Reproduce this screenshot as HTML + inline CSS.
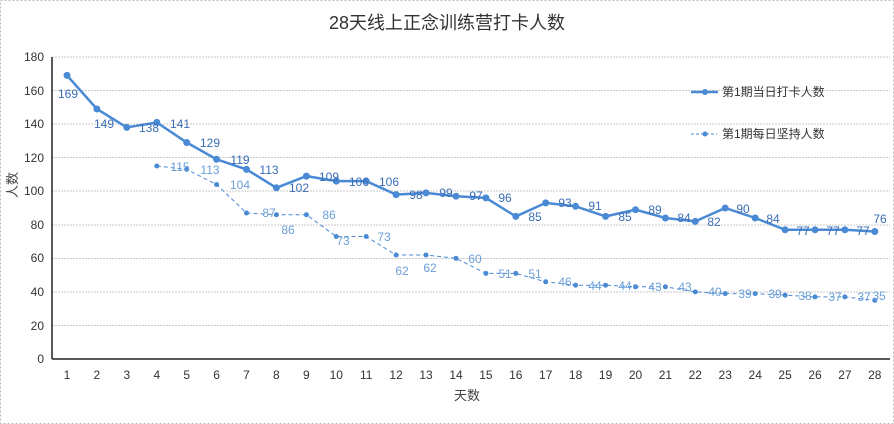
<!DOCTYPE html>
<html><head><meta charset="utf-8"><style>
html,body{margin:0;padding:0;background:#fff;}
svg{display:block;font-family:"Liberation Sans","Noto Sans CJK SC",sans-serif;}
.t1{font-size:12px;fill:#3a6db5;text-anchor:middle;}
.t2{font-size:12px;fill:#6a9fd8;text-anchor:middle;}
.ax{font-size:12px;fill:#333;}
</style></head><body>
<svg width="894" height="424" viewBox="0 0 894 424">
<rect x="0.5" y="0.5" width="893" height="423" fill="#fff" stroke="#bbb" stroke-dasharray="2,2"/>
<text x="447" y="29" font-size="18" fill="#333" text-anchor="middle">28天线上正念训练营打卡人数</text>
<g stroke="#c8c8c8" stroke-dasharray="2,1">
<line x1="52" y1="57" x2="890" y2="57"/><line x1="52" y1="90.5" x2="890" y2="90.5"/><line x1="52" y1="124" x2="890" y2="124"/><line x1="52" y1="157.5" x2="890" y2="157.5"/><line x1="52" y1="191" x2="890" y2="191"/><line x1="52" y1="225" x2="890" y2="225"/><line x1="52" y1="258.5" x2="890" y2="258.5"/><line x1="52" y1="292" x2="890" y2="292"/><line x1="52" y1="325.5" x2="890" y2="325.5"/>
</g>
<line x1="52" y1="57" x2="52" y2="359" stroke="#222" stroke-width="1.5"/>
<line x1="52" y1="359" x2="890" y2="359" stroke="#222" stroke-width="1.5"/>
<g class="ax" text-anchor="end">
<text x="44" y="61">180</text><text x="44" y="95">160</text><text x="44" y="128">140</text><text x="44" y="162">120</text><text x="44" y="195">100</text><text x="44" y="229">80</text><text x="44" y="262">60</text><text x="44" y="296">40</text><text x="44" y="330">20</text><text x="44" y="363">0</text>
</g>
<g class="ax" text-anchor="middle">
<text x="67" y="379">1</text><text x="96.9" y="379">2</text><text x="126.8" y="379">3</text><text x="156.8" y="379">4</text><text x="186.7" y="379">5</text><text x="216.6" y="379">6</text><text x="246.5" y="379">7</text><text x="276.4" y="379">8</text><text x="306.4" y="379">9</text><text x="336.3" y="379">10</text><text x="366.2" y="379">11</text><text x="396.1" y="379">12</text><text x="426" y="379">13</text><text x="456" y="379">14</text><text x="485.9" y="379">15</text><text x="515.8" y="379">16</text><text x="545.7" y="379">17</text><text x="575.6" y="379">18</text><text x="605.6" y="379">19</text><text x="635.5" y="379">20</text><text x="665.4" y="379">21</text><text x="695.3" y="379">22</text><text x="725.2" y="379">23</text><text x="755.2" y="379">24</text><text x="785.1" y="379">25</text><text x="815" y="379">26</text><text x="844.9" y="379">27</text><text x="874.8" y="379">28</text>
</g>
<text x="467" y="400" font-size="13" fill="#444" text-anchor="middle">天数</text>
<text transform="translate(17,185) rotate(-90)" font-size="13" fill="#444" text-anchor="middle">人数</text>

<polyline fill="none" stroke="#4a8ad4" stroke-width="2.5" points="67,75.4 96.9,109 126.8,127.4 156.8,122.4 186.7,142.5 216.6,159.3 246.5,169.4 276.4,187.8 306.4,176.1 336.3,181.1 366.2,181.1 396.1,194.6 426,192.9 456,196.2 485.9,197.9 515.8,216.4 545.7,202.9 575.6,206.3 605.6,216.4 635.5,209.7 665.4,218 695.3,221.4 725.2,208 755.2,218 785.1,229.8 815,229.8 844.9,229.8 874.8,231.5"/>
<g fill="#4a8ad4">
<circle cx="67" cy="75.4" r="3.5"/><circle cx="96.9" cy="109" r="3.5"/><circle cx="126.8" cy="127.4" r="3.5"/><circle cx="156.8" cy="122.4" r="3.5"/><circle cx="186.7" cy="142.5" r="3.5"/><circle cx="216.6" cy="159.3" r="3.5"/><circle cx="246.5" cy="169.4" r="3.5"/><circle cx="276.4" cy="187.8" r="3.5"/><circle cx="306.4" cy="176.1" r="3.5"/><circle cx="336.3" cy="181.1" r="3.5"/><circle cx="366.2" cy="181.1" r="3.5"/><circle cx="396.1" cy="194.6" r="3.5"/><circle cx="426" cy="192.9" r="3.5"/><circle cx="456" cy="196.2" r="3.5"/><circle cx="485.9" cy="197.9" r="3.5"/><circle cx="515.8" cy="216.4" r="3.5"/><circle cx="545.7" cy="202.9" r="3.5"/><circle cx="575.6" cy="206.3" r="3.5"/><circle cx="605.6" cy="216.4" r="3.5"/><circle cx="635.5" cy="209.7" r="3.5"/><circle cx="665.4" cy="218" r="3.5"/><circle cx="695.3" cy="221.4" r="3.5"/><circle cx="725.2" cy="208" r="3.5"/><circle cx="755.2" cy="218" r="3.5"/><circle cx="785.1" cy="229.8" r="3.5"/><circle cx="815" cy="229.8" r="3.5"/><circle cx="844.9" cy="229.8" r="3.5"/><circle cx="874.8" cy="231.5" r="3.5"/>
</g>
<polyline fill="none" stroke="#4a8ad4" stroke-width="1" stroke-dasharray="4,3" points="156.8,166 186.7,169.4 216.6,184.5 246.5,213 276.4,214.7 306.4,214.7 336.3,236.5 366.2,236.5 396.1,255 426,255 456,258.3 485.9,273.4 515.8,273.4 545.7,281.8 575.6,285.2 605.6,285.2 635.5,286.8 665.4,286.8 695.3,291.9 725.2,293.6 755.2,293.6 785.1,295.2 815,296.9 844.9,296.9 874.8,300.3"/>
<g fill="#4a8ad4">
<circle cx="156.8" cy="166" r="2.5"/><circle cx="186.7" cy="169.4" r="2.5"/><circle cx="216.6" cy="184.5" r="2.5"/><circle cx="246.5" cy="213" r="2.5"/><circle cx="276.4" cy="214.7" r="2.5"/><circle cx="306.4" cy="214.7" r="2.5"/><circle cx="336.3" cy="236.5" r="2.5"/><circle cx="366.2" cy="236.5" r="2.5"/><circle cx="396.1" cy="255" r="2.5"/><circle cx="426" cy="255" r="2.5"/><circle cx="456" cy="258.3" r="2.5"/><circle cx="485.9" cy="273.4" r="2.5"/><circle cx="515.8" cy="273.4" r="2.5"/><circle cx="545.7" cy="281.8" r="2.5"/><circle cx="575.6" cy="285.2" r="2.5"/><circle cx="605.6" cy="285.2" r="2.5"/><circle cx="635.5" cy="286.8" r="2.5"/><circle cx="665.4" cy="286.8" r="2.5"/><circle cx="695.3" cy="291.9" r="2.5"/><circle cx="725.2" cy="293.6" r="2.5"/><circle cx="755.2" cy="293.6" r="2.5"/><circle cx="785.1" cy="295.2" r="2.5"/><circle cx="815" cy="296.9" r="2.5"/><circle cx="844.9" cy="296.9" r="2.5"/><circle cx="874.8" cy="300.3" r="2.5"/>
</g>
<g class="t1">
<text x="68" y="98">169</text><text x="104" y="128">149</text><text x="149" y="132">138</text><text x="180" y="128">141</text><text x="210" y="147">129</text><text x="240" y="164">119</text><text x="269" y="174">113</text><text x="299" y="192">102</text><text x="329" y="181">109</text><text x="359" y="186">106</text><text x="389" y="186">106</text><text x="416" y="199">98</text><text x="446" y="197">99</text><text x="476" y="200">97</text><text x="505" y="202">96</text><text x="535" y="221">85</text><text x="565" y="207">93</text><text x="595" y="210">91</text><text x="625" y="221">85</text><text x="655" y="214">89</text><text x="684" y="222">84</text><text x="714" y="226">82</text><text x="743" y="213">90</text><text x="773" y="223">84</text><text x="803" y="235">77</text><text x="833" y="235">77</text><text x="863" y="235">77</text><text x="880" y="223">76</text>
</g>
<g class="t2">
<text x="180" y="171">115</text><text x="210" y="174">113</text><text x="240" y="189">104</text><text x="269" y="217">87</text><text x="288" y="234">86</text><text x="329" y="219">86</text><text x="343" y="245">73</text><text x="384" y="241">73</text><text x="402" y="275">62</text><text x="430" y="272">62</text><text x="475" y="263">60</text><text x="505" y="278">51</text><text x="535" y="278">51</text><text x="565" y="286">46</text><text x="595" y="290">44</text><text x="625" y="290">44</text><text x="655" y="291">43</text><text x="685" y="291">43</text><text x="715" y="296">40</text><text x="745" y="298">39</text><text x="775" y="298">39</text><text x="805" y="300">38</text><text x="835" y="301">37</text><text x="864" y="301">37</text><text x="879" y="300">35</text>
</g>
<line x1="691" y1="92" x2="718" y2="92" stroke="#4a8ad4" stroke-width="2.5"/><circle cx="705" cy="92" r="3" fill="#4a8ad4"/>
<text x="722" y="96" font-size="12" fill="#333">第1期当日打卡人数</text>
<line x1="691" y1="134" x2="717" y2="134" stroke="#4a8ad4" stroke-width="1" stroke-dasharray="3,2"/><circle cx="705" cy="134" r="2.5" fill="#4a8ad4"/>
<text x="722" y="138" font-size="12" fill="#333">第1期每日坚持人数</text>
</svg>
</body></html>
